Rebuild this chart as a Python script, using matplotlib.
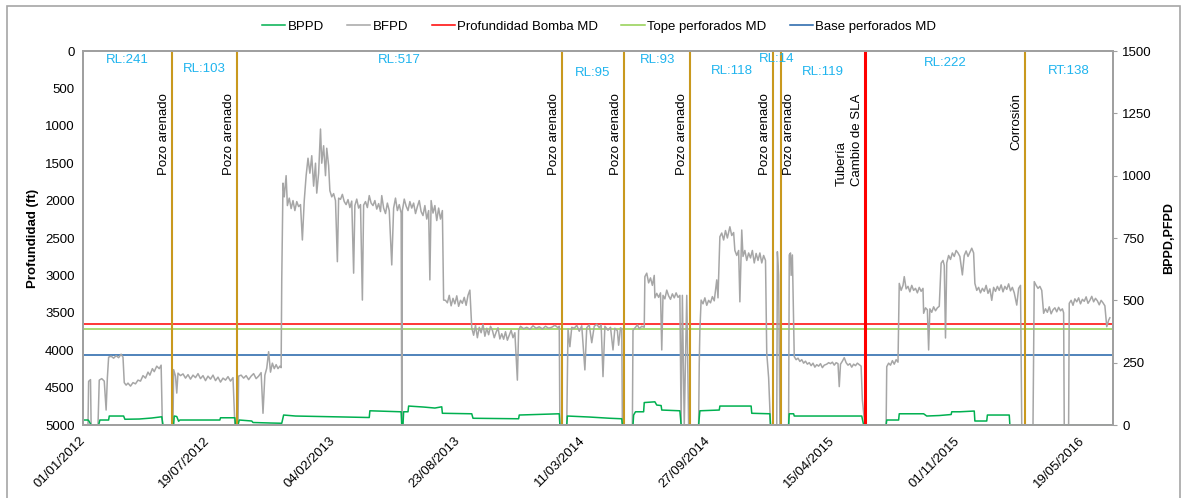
import numpy as np
import pandas as pd
import matplotlib
matplotlib.use("Agg")
import matplotlib.pyplot as plt
import matplotlib.dates as mdates
from matplotlib.patches import Rectangle

plt.rcParams["font.family"] = ["Liberation Sans", "DejaVu Sans"]

# fecha inicial; las series se dan en dias desde esa fecha
start = pd.Timestamp("2012-01-01")
x_end_day = 1648

# BFPD (eje derecho)
bfpd_days = [0, 8, 9, 12, 13, 24, 26, 30, 34, 37, 39, 41, 45, 49, 53, 57, 61, 64, 66, 69,
             72, 76, 80, 84, 88, 92, 96, 100, 104, 107, 111, 114, 118, 122, 125, 127, 144, 145, 148, 150,
             152, 156, 160, 164, 168, 172, 176, 180, 184, 188, 192, 196, 200, 204, 208, 212, 216, 220, 224, 228,
             232, 236, 240, 243, 248, 249, 253, 257, 261, 265, 269, 273, 277, 281, 285, 288, 291, 294, 297, 300,
             303, 306, 309, 312, 315, 317, 318, 320, 322, 325, 327, 330, 333, 336, 339, 342, 345, 348, 351, 354,
             357, 360, 363, 366, 369, 372, 374, 377, 380, 382, 385, 388, 390, 393, 395, 398, 401, 404, 407, 409,
             412, 415, 418, 421, 424, 427, 430, 433, 435, 438, 441, 444, 447, 449, 452, 455, 458, 461, 464, 467,
             470, 473, 476, 478, 481, 484, 487, 490, 494, 497, 500, 503, 506, 509, 510, 511, 514, 517, 520, 523,
             526, 529, 532, 535, 538, 541, 544, 547, 550, 553, 555, 557, 560, 563, 566, 569, 572, 575, 577, 580,
             583, 586, 589, 592, 595, 598, 601, 604, 607, 610, 613, 616, 619, 622, 625, 628, 631, 634, 637, 640,
             643, 646, 649, 652, 655, 658, 661, 664, 667, 670, 673, 676, 679, 682, 685, 688, 691, 695, 697, 700,
             705, 710, 715, 720, 725, 730, 735, 740, 745, 750, 755, 760, 762, 763, 774, 776, 779, 782, 786, 790,
             794, 798, 803, 806, 810, 814, 818, 822, 826, 829, 832, 835, 840, 844, 848, 851, 855, 857, 860, 862,
             863, 879, 880, 884, 887, 890, 894, 898, 899, 902, 905, 908, 911, 914, 915, 918, 921, 924, 926, 928,
             931, 934, 937, 940, 943, 946, 949, 952, 955, 957, 959, 962, 966, 969, 985, 986, 987, 989, 992, 995,
             998, 1001, 1004, 1007, 1010, 1014, 1016, 1019, 1022, 1025, 1028, 1031, 1035, 1038, 1041, 1043, 1046, 1049, 1051, 1053,
             1054, 1056, 1059, 1062, 1065, 1068, 1071, 1074, 1077, 1080, 1083, 1086, 1089, 1092, 1094, 1097, 1100, 1110, 1111, 1113,
             1115, 1129, 1130, 1132, 1133, 1135, 1138, 1141, 1144, 1147, 1150, 1153, 1156, 1159, 1162, 1165, 1168, 1171, 1174, 1177,
             1180, 1183, 1186, 1190, 1193, 1196, 1199, 1202, 1205, 1208, 1210, 1212, 1215, 1218, 1221, 1224, 1227, 1230, 1233, 1236,
             1239, 1242, 1245, 1247, 1251, 1285, 1286, 1289, 1292, 1295, 1298, 1301, 1304, 1306, 1309, 1312, 1314, 1317, 1320, 1323,
             1326, 1329, 1332, 1335, 1338, 1341, 1344, 1345, 1348, 1351, 1353, 1355, 1358, 1361, 1364, 1367, 1370, 1373, 1376, 1378,
             1380, 1382, 1385, 1388, 1391, 1394, 1397, 1400, 1403, 1407, 1410, 1413, 1416, 1419, 1422, 1425, 1427, 1430, 1433, 1436,
             1439, 1442, 1445, 1448, 1451, 1454, 1457, 1460, 1463, 1466, 1469, 1472, 1475, 1478, 1481, 1484, 1487, 1490, 1494, 1497,
             1500, 1502, 1520, 1522, 1525, 1528, 1531, 1534, 1537, 1540, 1543, 1546, 1549, 1552, 1555, 1558, 1561, 1564, 1567, 1569,
             1570, 1577, 1578, 1581, 1584, 1587, 1590, 1593, 1596, 1599, 1602, 1605, 1608, 1611, 1614, 1617, 1620, 1623, 1626, 1629,
             1632, 1635, 1638, 1641, 1643]
bfpd_vals = [0, 0, 175, 182, 0, 0, 180, 186, 176, 60, 190, 272, 276, 268, 278, 270, 284, 272, 170, 160,
             168, 156, 170, 165, 180, 176, 198, 188, 212, 200, 226, 214, 236, 226, 240, 0, 0, 222, 196, 128,
             208, 198, 205, 188, 202, 184, 200, 190, 206, 186, 198, 178, 196, 184, 200, 178, 192, 172, 188, 180,
             194, 176, 190, 0, 0, 196, 200, 188, 198, 182, 196, 206, 186, 196, 210, 47, 200, 228, 294, 212,
             248, 226, 242, 226, 236, 230, 582, 970, 915, 1000, 880, 910, 868, 900, 860, 896, 876, 884, 742, 900,
             1000, 1070, 1010, 1080, 958, 1050, 930, 1010, 1187, 1050, 1120, 1000, 1110, 1040, 940, 915, 928, 900, 655, 910,
             905, 925, 896, 884, 904, 872, 898, 609, 880, 906, 870, 884, 501, 882, 896, 872, 920, 890, 880, 900,
             866, 888, 856, 920, 870, 848, 890, 860, 642, 870, 910, 860, 884, 850, 0, 860, 906, 878, 860, 896,
             870, 890, 848, 876, 900, 856, 840, 880, 826, 860, 582, 900, 850, 880, 820, 870, 826, 860, 501, 500,
             490, 520, 478, 508, 486, 518, 476, 500, 488, 512, 480, 520, 541, 390, 360, 400, 350, 392, 370, 404,
             356, 388, 362, 396, 380, 350, 372, 390, 345, 366, 344, 374, 340, 360, 380, 350, 370, 180, 380, 396,
             386, 392, 384, 398, 388, 394, 385, 396, 388, 392, 400, 390, 396, 0, 0, 386, 314, 392, 388, 400,
             376, 398, 221, 390, 402, 330, 396, 404, 390, 402, 194, 396, 380, 392, 301, 388, 378, 320, 390, 386,
             0, 0, 380, 392, 402, 386, 396, 392, 595, 609, 570, 590, 560, 600, 510, 528, 512, 530, 301, 520,
             506, 541, 518, 504, 526, 510, 530, 512, 520, 0, 520, 0, 520, 0, 0, 247, 380, 501, 486, 510,
             480, 500, 490, 515, 498, 582, 510, 755, 770, 742, 780, 750, 795, 760, 772, 700, 680, 700, 494, 690,
             782, 676, 700, 660, 690, 670, 700, 650, 688, 660, 690, 650, 680, 660, 288, 190, 0, 0, 695, 600,
             0, 0, 682, 690, 600, 682, 274, 262, 268, 255, 262, 248, 256, 244, 250, 238, 248, 232, 242, 236,
             246, 230, 240, 244, 250, 246, 252, 240, 250, 246, 154, 244, 256, 270, 250, 240, 246, 232, 244, 238,
             248, 242, 236, 100, 0, 0, 234, 248, 240, 258, 244, 262, 252, 568, 540, 560, 595, 546, 556, 534,
             560, 540, 548, 530, 552, 536, 548, 448, 470, 462, 301, 466, 452, 474, 458, 470, 476, 649, 660, 640,
             349, 650, 680, 664, 690, 676, 700, 690, 676, 602, 680, 698, 676, 692, 709, 690, 568, 540, 552, 530,
             548, 536, 560, 528, 546, 500, 552, 536, 556, 540, 562, 534, 556, 544, 566, 538, 552, 530, 481, 548,
             560, 0, 0, 575, 560, 548, 556, 540, 448, 466, 452, 474, 446, 462, 470, 454, 472, 458, 466, 450,
             0, 0, 488, 500, 480, 506, 494, 510, 486, 504, 496, 514, 488, 500, 516, 494, 508, 498, 482, 500,
             490, 478, 394, 420, 430]

# BPPD (eje derecho)
bppd_days = [0, 8, 9, 13, 25, 27, 41, 42, 65, 67, 90, 110, 126, 128, 145, 146, 150, 153, 155, 219,
             220, 243, 244, 248, 250, 270, 272, 300, 318, 321, 340, 380, 420, 458, 459, 509, 510, 512, 513, 520,
             521, 545, 563, 574, 575, 622, 624, 697, 698, 762, 763, 774, 775, 810, 843, 862, 863, 880, 881, 884,
             897, 898, 915, 918, 925, 926, 955, 957, 985, 987, 1018, 1019, 1069, 1070, 1099, 1100, 1129, 1130, 1137, 1138,
             1246, 1249, 1285, 1286, 1305, 1306, 1345, 1350, 1370, 1389, 1390, 1403, 1426, 1427, 1446, 1447, 1482, 1483, 1643]
bppd_vals = [20, 20, 18, 0, 0, 20, 20, 36, 36, 23, 24, 28, 33, 0, 0, 36, 34, 15, 20, 20,
             29, 29, 0, 0, 20, 16, 10, 8, 7, 40, 36, 34, 32, 30, 57, 53, 0, 0, 53, 53,
             76, 72, 68, 73, 47, 45, 27, 25, 40, 45, 0, 0, 36, 32, 27, 25, 0, 0, 40, 53,
             53, 90, 93, 80, 78, 60, 57, 0, 0, 57, 60, 76, 76, 47, 45, 0, 0, 45, 45, 36,
             36, 0, 0, 20, 20, 45, 45, 36, 38, 42, 53, 53, 56, 16, 16, 40, 40, 0, 0]

# profundidades (eje izquierdo, ft)
prof_bomba = 3650
tope_perf = 3720
base_perf = 4070

# eventos
event_days = [142, 246, 766, 866, 971, 1104, 1117, 1251, 1507]
event_labels = ["Pozo arenado"] * 7 + ["Tubería\nCambio de SLA", "Corrosión"]
run_labels = ["RL:241", "RL:103", "RL:517", "RL:95", "RL:93", "RL:118", "RL:14",
              "RL:119", "RL:222", "RT:138"]

x_ticks = pd.date_range(start, periods=9, freq="200D")


def day_num(d):
    return mdates.date2num((start + pd.Timedelta(days=float(d))).to_pydatetime())


fig = plt.figure(figsize=(11.89, 4.98), dpi=100)
ax = fig.add_axes([83 / 1189, 1 - 425 / 498, 1030 / 1189, 374 / 498])
ax2 = ax.twinx()

# lineas horizontales de profundidad
ax.axhline(prof_bomba, color="#FF0000", lw=1.1)
ax.axhline(tope_perf, color="#92D050", lw=1.1)
ax.axhline(base_perf, color="#1F62A8", lw=1.1)
ax.set_ylim(5000, 0)
ax.set_yticks(np.arange(0, 5001, 500))
ax.set_ylabel("Profundidad (ft)", fontweight="bold", fontsize=9.5, labelpad=4)

# caudales
l_bfpd, = ax2.plot([day_num(d) for d in bfpd_days], bfpd_vals, color="#A6A6A6", lw=1.1)
l_bppd, = ax2.plot([day_num(d) for d in bppd_days], bppd_vals, color="#00B050", lw=1.1)
ax2.set_ylim(0, 1500)
ax2.set_yticks(np.arange(0, 1501, 250))
ax2.set_ylabel("BPPD,PFPD", fontweight="bold", fontsize=9, labelpad=8)

ax.set_xlim(day_num(0), day_num(x_end_day))
ax.set_xticks([mdates.date2num(t.to_pydatetime()) for t in x_ticks])
ax.xaxis.set_major_formatter(mdates.DateFormatter("%d/%m/%Y"))

for a in (ax, ax2):
    for s in a.spines.values():
        s.set_color("#A0A0A0")
        s.set_linewidth(1.4)
    a.tick_params(labelsize=9.5, colors="#A0A0A0", labelcolor="black", length=3)
ax.tick_params(axis="y", length=0, pad=6)
ax.tick_params(axis="x", length=0, pad=10, labelrotation=45)
plt.setp(ax.get_xticklabels(), ha="right", va="center", rotation_mode="anchor")

# lineas de eventos
trans = ax2.get_xaxis_transform()
for i, (d, lab) in enumerate(zip(event_days, event_labels)):
    xd = day_num(d)
    is_sla = "SLA" in lab
    ax2.axvline(xd, color="#FF0000" if is_sla else "#C9991E", lw=2.2 if is_sla else 1.5)
    right_side = i == 6
    ax2.annotate(lab, xy=(xd, 0.887), xycoords=trans,
                 xytext=(1.5 if right_side else -1.5, 0), textcoords="offset points",
                 rotation=90, ha="left" if right_side else "right", va="top",
                 multialignment="left", fontsize=9.5, color="black", linespacing=1.3)

# etiquetas RL entre eventos
bounds = [0] + event_days + [x_end_day]
rl_y = [0.976, 0.952, 0.976, 0.941, 0.976, 0.947, 0.979, 0.944, 0.968, 0.947]
for j, lab in enumerate(run_labels):
    mid = day_num((bounds[j] + bounds[j + 1]) / 2)
    ax2.text(mid, rl_y[j], lab, transform=trans, ha="center", va="center",
             fontsize=9.5, color="#1FB4EE")

# leyenda
h_tope = plt.Line2D([], [], color="#92D050", lw=1.1)
h_base = plt.Line2D([], [], color="#1F62A8", lw=1.1)
h_bomba = plt.Line2D([], [], color="#FF0000", lw=1.1)
fig.legend([l_bppd, l_bfpd, h_bomba, h_tope, h_base],
           ["BPPD", "BFPD", "Profundidad Bomba MD", "Tope perforados MD", "Base perforados MD"],
           loc="center", bbox_to_anchor=(0.504, 0.946), ncol=5, frameon=False,
           fontsize=9.5, handlelength=1.75, handletextpad=0.2, columnspacing=1.75)

# marco exterior
fig.patches.append(Rectangle((7 / 1189, -0.01), 1173 / 1189, 1 - 6 / 498 + 0.01,
                             transform=fig.transFigure, fill=False,
                             edgecolor="#A6A6A6", lw=1.2))

fig.savefig("out.png", dpi=100)
